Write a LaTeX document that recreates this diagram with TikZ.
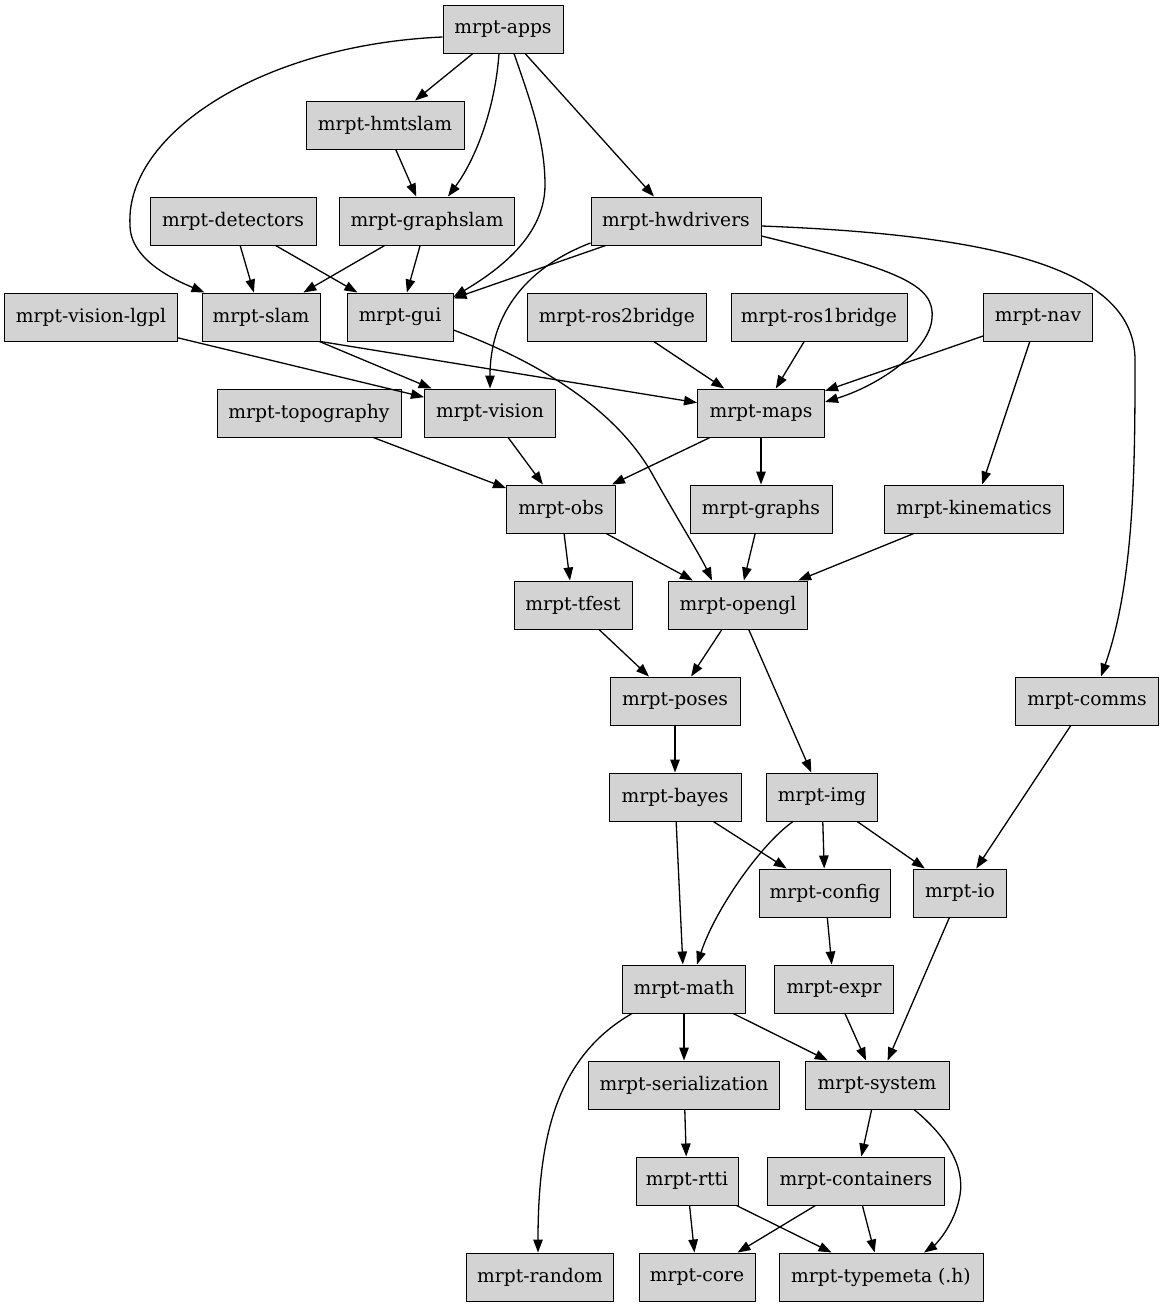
\documentclass[tikz,border=0pt]{standalone}
\usepackage{fontspec}
\setmainfont{DejaVu Serif}
\usetikzlibrary{arrows.meta}
\definecolor{boxfill}{RGB}{211,211,211}
\tikzset{
  box/.style={draw=black, fill=boxfill, line width=1pt, minimum height=48pt, inner sep=0pt, font=\fontsize{18.7}{22}\selectfont},
  edge/.style={line width=1.3pt, -{Triangle[length=13pt,width=9.5pt]}},
}
\begin{document}
\begin{tikzpicture}[x=1pt,y=-1pt]
\useasboundingbox (0,0) rectangle (1165,1307);
\node[box, minimum width=120pt] (apps) at (503,29) {mrpt-apps};
\node[box, minimum width=158pt] (hmtslam) at (385,125) {mrpt-hmtslam};
\node[box, minimum width=166pt] (detectors) at (233,221) {mrpt-detectors};
\node[box, minimum width=175pt] (graphslam) at (427,221) {mrpt-graphslam};
\node[box, minimum width=170pt] (hwd) at (676,221) {mrpt-hwdrivers};
\node[box, minimum width=173pt] (lgpl) at (91,317) {mrpt-vision-lgpl};
\node[box, minimum width=118pt] (slam) at (261,317) {mrpt-slam};
\node[box, minimum width=106pt] (gui) at (400,317) {mrpt-gui};
\node[box, minimum width=179pt] (ros2) at (617,317) {mrpt-ros2bridge};
\node[box, minimum width=176pt] (ros1) at (819,317) {mrpt-ros1bridge};
\node[box, minimum width=109pt] (nav) at (1038,317) {mrpt-nav};
\node[box, minimum width=184pt] (topo) at (309,413) {mrpt-topography};
\node[box, minimum width=131pt] (vision) at (490,413) {mrpt-vision};
\node[box, minimum width=127pt] (maps) at (761,413) {mrpt-maps};
\node[box, minimum width=109pt] (obs) at (561,509) {mrpt-obs};
\node[box, minimum width=142pt] (graphs) at (761,509) {mrpt-graphs};
\node[box, minimum width=179pt] (kin) at (974,509) {mrpt-kinematics};
\node[box, minimum width=118pt] (tfest) at (573,605) {mrpt-tfest};
\node[box, minimum width=139pt] (opengl) at (738,605) {mrpt-opengl};
\node[box, minimum width=143pt] (comms) at (1087,701) {mrpt-comms};
\node[box, minimum width=130pt] (poses) at (675,701) {mrpt-poses};
\node[box, minimum width=132pt] (bayes) at (675,797) {mrpt-bayes};
\node[box, minimum width=111pt] (img) at (822,797) {mrpt-img};
\node[box, minimum width=131pt] (config) at (825,893) {mrpt-config};
\node[box, minimum width=93pt] (io) at (960,893) {mrpt-io};
\node[box, minimum width=123pt] (math) at (684,989) {mrpt-math};
\node[box, minimum width=119pt] (expr) at (834,989) {mrpt-expr};
\node[box, minimum width=191pt] (ser) at (684,1085) {mrpt-serialization};
\node[box, minimum width=144pt] (system) at (877,1085) {mrpt-system};
\node[box, minimum width=102pt] (rtti) at (687,1181) {mrpt-rtti};
\node[box, minimum width=177pt] (cont) at (856,1181) {mrpt-containers};
\node[box, minimum width=147pt] (random) at (540,1277) {mrpt-random};
\node[box, minimum width=116pt] (core) at (697,1277) {mrpt-core};
\node[box, minimum width=204pt] (typemeta) at (881,1277) {mrpt-typemeta (.h)};
% curved edges
\draw[edge] ([yshift=-8pt]apps.west) .. controls (260,45) and (125,135) .. (130,225) .. controls (130,260) and (175,280) .. ([xshift=3pt]slam.north west);
\draw[edge] ([xshift=-4pt]apps.south) .. controls (495,110) and (475,160) .. ([xshift=21pt]graphslam.north);
\draw[edge] ([xshift=11pt]apps.south) .. controls (530,100) and (545,140) .. (545,185) .. controls (545,240) and (490,275) .. ([yshift=20pt]gui.east);
\draw[edge] ([yshift=-22pt]hwd.west) .. controls (520,270) and (490,320) .. (vision.north);
\draw[edge] ([yshift=-15pt]hwd.east) .. controls (900,270) and (935,285) .. (932,318) .. controls (930,350) and (880,385) .. ([yshift=11pt]maps.east);
\draw[edge] ([yshift=-5pt]hwd.east) .. controls (1000,235) and (1135,270) .. (1135,360) .. controls (1135,460) and (1135,580) .. ([xshift=14pt]comms.north);
\draw[edge] ([yshift=-13pt]gui.east) .. controls (560,370) and (620,420) .. (650,470) .. controls (675,515) and (700,555) .. ([xshift=-26pt]opengl.north);
\draw[edge] ([xshift=-29pt]img.south) .. controls (760,845) and (715,910) .. ([xshift=13pt]math.north);
\draw[edge] ([xshift=-52pt]math.south) .. controls (560,1055) and (538,1130) .. ([xshift=-2pt]random.north);
\draw[edge] ([xshift=37pt]system.south) .. controls (945,1135) and (965,1165) .. (960,1195) .. controls (955,1225) and (935,1245) .. ([xshift=43pt]typemeta.north);
% straight edges
\draw[edge] (apps) -- (hmtslam);
\draw[edge] (apps) -- (hwd);
\draw[edge] (hmtslam) -- (graphslam);
\draw[edge] (detectors) -- (slam);
\draw[edge] (detectors) -- (gui);
\draw[edge] (graphslam) -- (slam);
\draw[edge] (graphslam) -- (gui);
\draw[edge] (hwd) -- (gui);
\draw[edge] (lgpl) -- (vision);
\draw[edge] (slam) -- (vision);
\draw[edge] (slam.south east) -- (maps);
\draw[edge] (ros2) -- (maps);
\draw[edge] (ros1) -- (maps);
\draw[edge] (nav) -- (maps);
\draw[edge] (nav) -- (kin);
\draw[edge] (topo) -- (obs);
\draw[edge] (vision) -- (obs);
\draw[edge] (maps) -- (obs);
\draw[edge] (maps) -- (graphs);
\draw[edge] (obs) -- (tfest);
\draw[edge] (obs) -- (opengl);
\draw[edge] (graphs) -- (opengl);
\draw[edge] (kin) -- (opengl);
\draw[edge] (tfest) -- (poses);
\draw[edge] (opengl) -- (poses);
\draw[edge] (opengl) -- (img);
\draw[edge] (comms) -- (io);
\draw[edge] (poses) -- (bayes);
\draw[edge] (bayes) -- (config);
\draw[edge] (bayes) -- (math);
\draw[edge] (img) -- (config);
\draw[edge] (img) -- (io);
\draw[edge] (config) -- (expr);
\draw[edge] (io) -- (system);
\draw[edge] (math) -- (ser);
\draw[edge] (math) -- (system);
\draw[edge] (expr) -- (system);
\draw[edge] (ser) -- (rtti);
\draw[edge] (system) -- (cont);
\draw[edge] (rtti) -- (core);
\draw[edge] (rtti) -- (typemeta);
\draw[edge] (cont) -- (core);
\draw[edge] (cont) -- (typemeta);
\end{tikzpicture}
\end{document}
